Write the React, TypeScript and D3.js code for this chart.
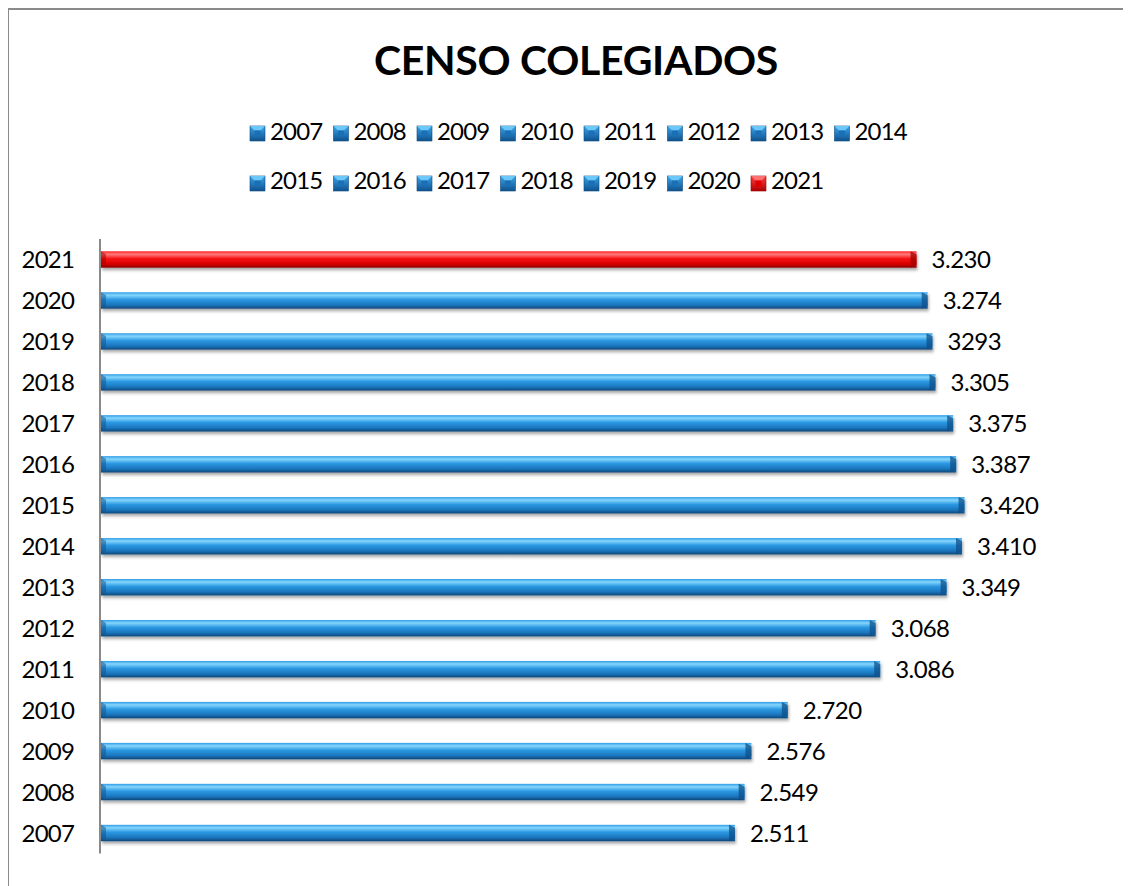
import React, { useEffect } from "react";
import * as d3 from "d3";

const years = ["2007","2008","2009","2010","2011","2012","2013","2014","2015","2016","2017","2018","2019","2020","2021"];
const values = [2511, 2549, 2576, 2720, 3086, 3068, 3349, 3410, 3420, 3387, 3375, 3305, 3293, 3274, 3230];
const valueLabels = ["2.511","2.549","2.576","2.720","3.086","3.068","3.349","3.410","3.420","3.387","3.375","3.305","3293","3.274","3.230"];
const highlightYear = "2021";
const legendRow1 = ["2007","2008","2009","2010","2011","2012","2013","2014"];
const legendRow2 = ["2015","2016","2017","2018","2019","2020","2021"];
const title = "CENSO COLEGIADOS";

const FONT = "Lato, 'Open Sans', sans-serif";

export default function App() {
  useEffect(() => {
    document.body.style.overflow = "hidden";
  }, []);

  const x = d3.scaleLinear().domain([0, 4000]).range([101, 1111]);
  const y = d3.scaleBand<string>().domain([...years].reverse()).range([239, 853.5]).paddingInner(0.6).paddingOuter(0.3);
  const bh = y.bandwidth();

  const legendMarker = (key: string, lx: number, ly: number) => {
    const red = key === highlightYear;
    return (
      <g key={"m" + key}>
        <rect x={lx} y={ly} width={15} height={15} fill={red ? "url(#lgRed)" : "url(#lgBlue)"} stroke={red ? "#9a0000" : "#0d4a80"} strokeWidth={0.6} />
        <polygon points={`${lx},${ly} ${lx + 15},${ly} ${lx + 10.5},${ly + 4.5} ${lx + 4.5},${ly + 4.5}`} fill={red ? "#ff7070" : "#6cc8f8"} />
        <rect x={lx + 4.5} y={ly + 4.5} width={6} height={6} fill={red ? "#e00000" : "#1a6fb5"} />
      </g>
    );
  };

  const pitch = 83.5;
  const legendX0 = 250;

  return (
    <svg width={1123} height={878} style={{ display: "block" }}>
      <defs>
        <linearGradient id="barBlue" x1="0" y1="0" x2="0" y2="1">
          <stop offset="0" stopColor="#2f9ce6" />
          <stop offset="0.18" stopColor="#85d6fc" />
          <stop offset="0.45" stopColor="#2b98e2" />
          <stop offset="0.78" stopColor="#1b75bc" />
          <stop offset="1" stopColor="#0e4679" />
        </linearGradient>
        <linearGradient id="barRed" x1="0" y1="0" x2="0" y2="1">
          <stop offset="0" stopColor="#f22" />
          <stop offset="0.18" stopColor="#ff7a7a" />
          <stop offset="0.45" stopColor="#f51414" />
          <stop offset="0.78" stopColor="#d80000" />
          <stop offset="1" stopColor="#8a0000" />
        </linearGradient>
        <linearGradient id="lgBlue" x1="0" y1="0" x2="0" y2="1">
          <stop offset="0" stopColor="#3aa4ea" />
          <stop offset="1" stopColor="#0f528e" />
        </linearGradient>
        <linearGradient id="lgRed" x1="0" y1="0" x2="0" y2="1">
          <stop offset="0" stopColor="#ff4040" />
          <stop offset="1" stopColor="#b00000" />
        </linearGradient>
        <filter id="shadow" x="-5%" y="-50%" width="110%" height="200%">
          <feDropShadow dx="1" dy="2.5" stdDeviation="1.5" floodColor="#000" floodOpacity="0.35" />
        </filter>
      </defs>
      <g transform="translate(-8,-8)">
        <rect x={8} y={9} width={1200} height={1000} fill="#fff" stroke="#8a8a8a" strokeWidth={2} />
        <text x={576} y={75} textAnchor="middle" fontFamily={FONT} fontWeight={700} fontSize={41} letterSpacing={-0.3} fill="#000">{title}</text>

        {legendRow1.map((k, i) => (
          <g key={"r1" + k}>
            {legendMarker(k, legendX0 + i * pitch, 126)}
            <text x={legendX0 + i * pitch + 20} y={140} fontFamily={FONT} fontSize={24} letterSpacing={-0.8} fill="#000">{k}</text>
          </g>
        ))}
        {legendRow2.map((k, i) => (
          <g key={"r2" + k}>
            {legendMarker(k, legendX0 + i * pitch, 176)}
            <text x={legendX0 + i * pitch + 20} y={189} fontFamily={FONT} fontSize={24} letterSpacing={-0.8} fill="#000">{k}</text>
          </g>
        ))}

        {years.map((yr, i) => {
          const top = y(yr)!;
          const x1 = x(values[i]);
          const red = yr === highlightYear;
          return (
            <g key={"b" + yr}>
              <g filter="url(#shadow)">
                <rect x={x(0)} y={top} width={x1 - x(0)} height={bh} fill={red ? "url(#barRed)" : "url(#barBlue)"} />
              </g>
              <polygon points={`${x1 - 6},${top} ${x1},${top + 3} ${x1},${top + bh - 3} ${x1 - 6},${top + bh}`} fill={red ? "#a00000" : "#0f4f88"} opacity={0.75} />
              <polygon points={`${x(0)},${top} ${x(0) + 5},${top + 3} ${x(0) + 5},${top + bh - 3} ${x(0)},${top + bh}`} fill={red ? "#a00000" : "#0f4f88"} opacity={0.5} />
              <text x={x1 + 15} y={top + bh / 2 + 8.5} fontFamily={FONT} fontSize={24} letterSpacing={-0.5} fill="#000">{valueLabels[i]}</text>
              <text x={74} y={top + bh / 2 + 8.5} textAnchor="end" fontFamily={FONT} fontSize={24} letterSpacing={-0.8} fill="#000">{yr}</text>
            </g>
          );
        })}

        <line x1={100} x2={100} y1={239} y2={853.5} stroke="#8a8a8a" strokeWidth={2} />
      </g>
    </svg>
  );
}
